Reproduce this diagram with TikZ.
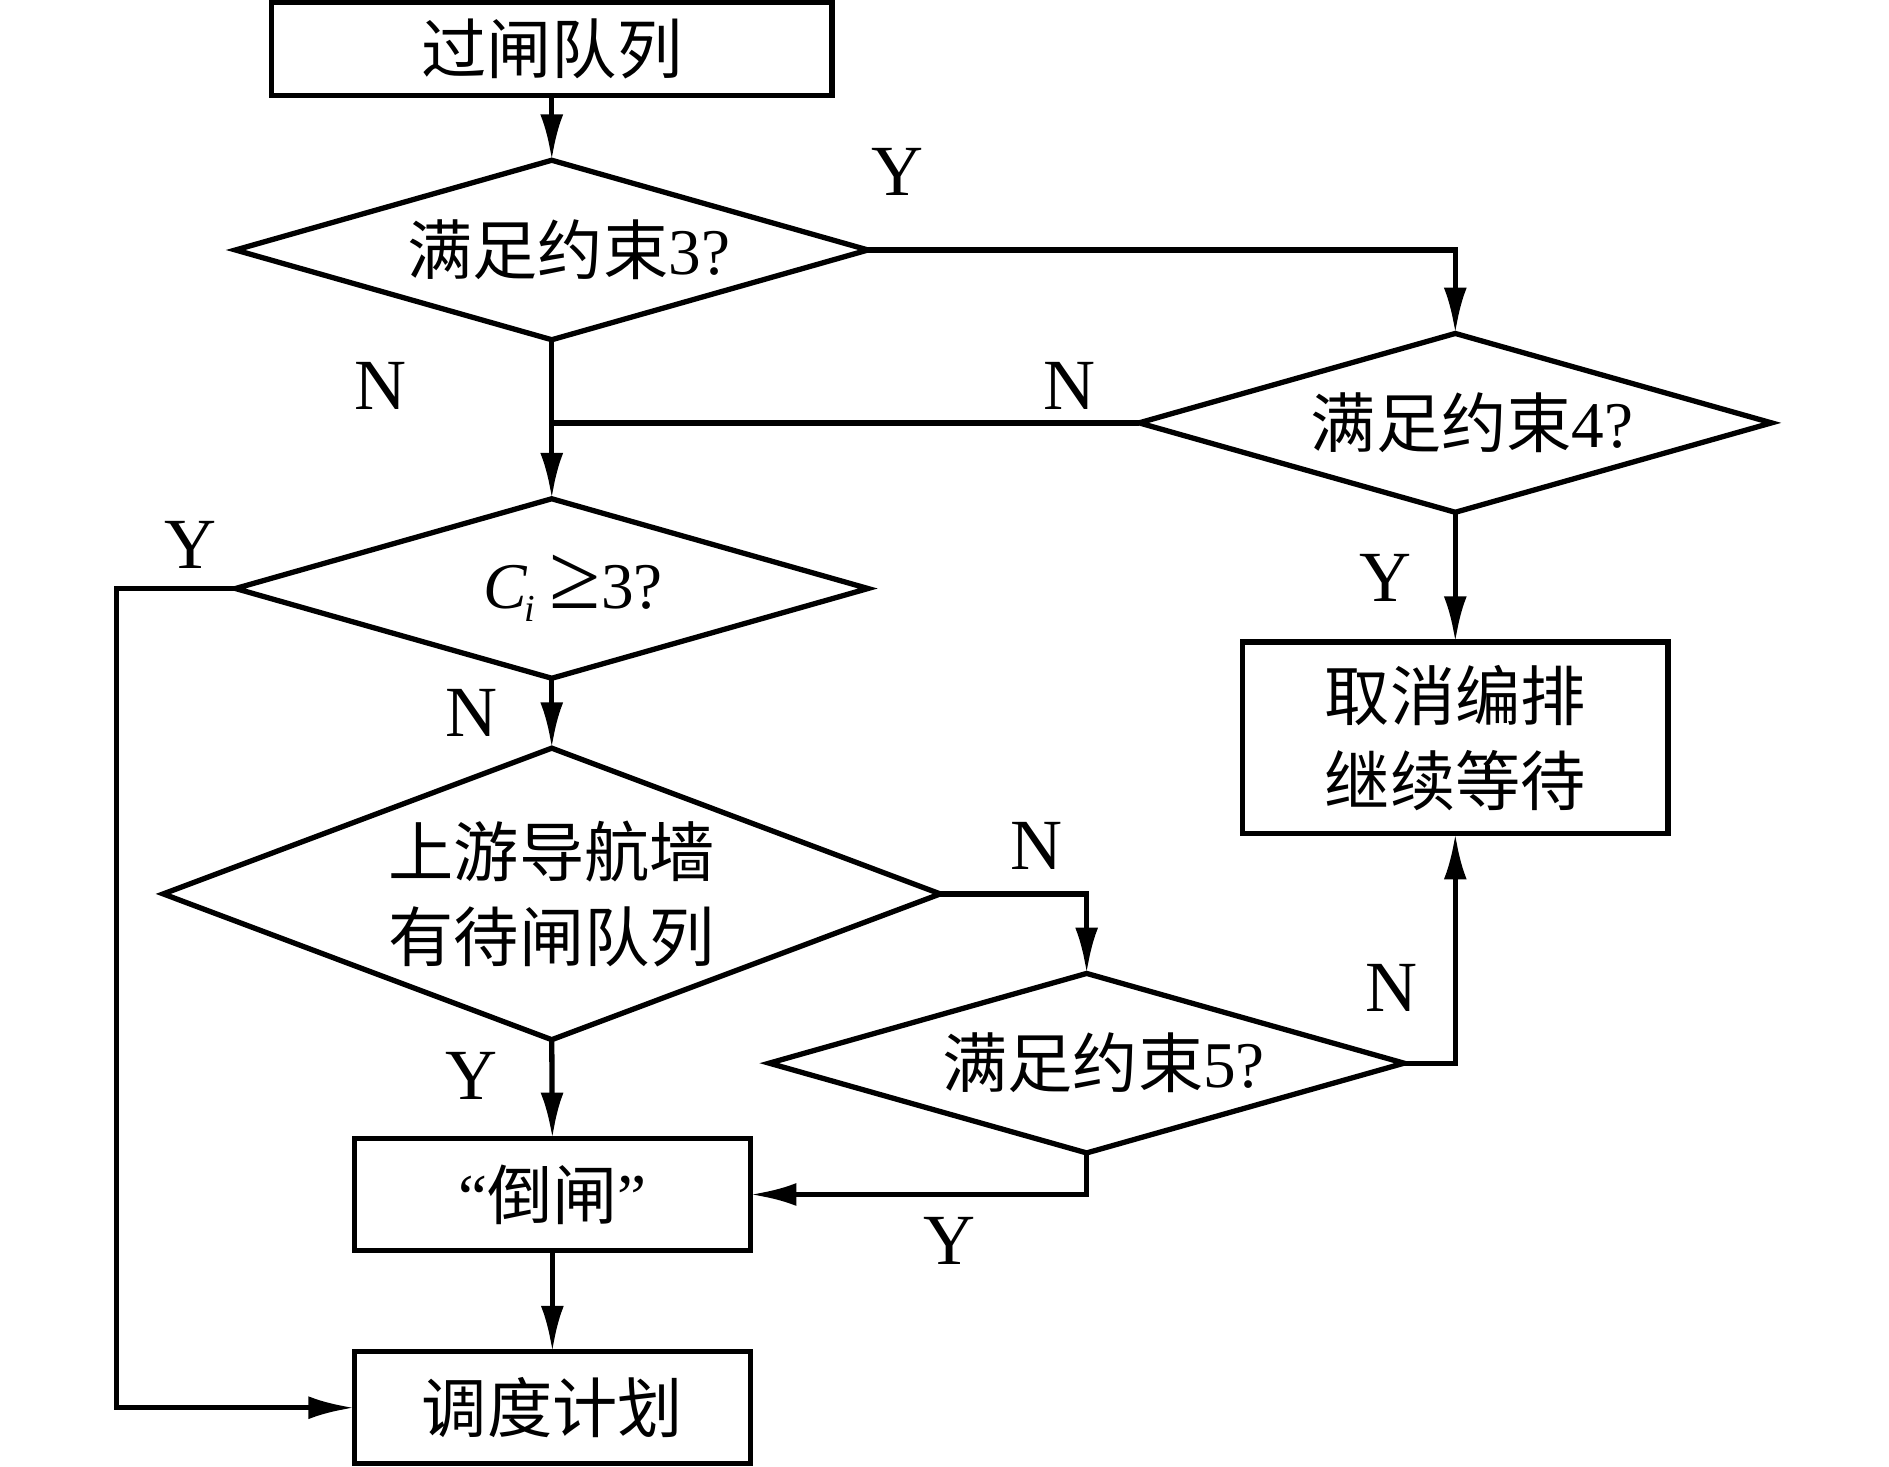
\documentclass[tikz,border=0pt]{standalone}
\usepackage{fontspec}
\setmainfont{Liberation Serif}
\newfontfamily\cjk{Noto Sans CJK SC}
\usetikzlibrary{shapes.geometric,arrows.meta}
\begin{document}
\begin{tikzpicture}[x=0.01cm,y=-0.01cm,
  every node/.style={inner sep=0pt,outer sep=0pt},
  txt/.style={font=\fontsize{15.4}{18}\selectfont,align=center},
  box/.style={txt,draw,line width=1.25pt,rectangle},
  dia/.style={txt,draw,line width=1.25pt,diamond,aspect=3},
  lab/.style={font=\fontsize{17}{20}\selectfont},
  con/.style={line width=1.25pt},
  arr/.style={con,-{Latex[length=3.8mm,width=1.9mm]}}]
\useasboundingbox (0,0) rectangle (1568,1217);
% nodes
\node[box,minimum width=465*0.01cm,minimum height=77*0.01cm] (q) at (458,40.5) {{\cjk 过闸队列}};
\node[dia,minimum width=525*0.01cm,minimum height=149*0.01cm] (d3) at (458,207.5) {\hspace{8pt}{\cjk 满足约束}3?};
\node[dia,minimum width=525*0.01cm,minimum height=148*0.01cm] (d4) at (1208,351) {\hspace{8pt}{\cjk 满足约束}4?};
\node[dia,minimum width=525*0.01cm,minimum height=149*0.01cm] (dc) at (458,488.5) {\hspace{10pt}{\itshape C\kern-0.5pt\raisebox{-0.45ex}{\fontsize{9}{9}\selectfont i}}\kern3.5pt{\fontsize{22}{22}\selectfont ≥}3?};
\node[dia,minimum width=645*0.01cm,minimum height=242*0.01cm] (dw) at (458,742) {{\cjk 上游导航墙}\\[2pt]{\cjk 有待闸队列}};
\node[dia,minimum width=527*0.01cm,minimum height=149*0.01cm] (d5) at (902,882.5) {\hspace{8pt}{\cjk 满足约束}5?};
\node[box,minimum width=353*0.01cm,minimum height=159*0.01cm] (cancel) at (1208,612.5) {{\cjk 取消编排}\\[2pt]{\cjk 继续等待}};
\node[box,minimum width=329*0.01cm,minimum height=93*0.01cm] (dz) at (458.5,991.5) {“{\cjk 倒闸}”};
\node[box,minimum width=329*0.01cm,minimum height=93*0.01cm] (plan) at (458.5,1168.5) {{\cjk 调度计划}};
% connectors
\draw[arr] (q.south) -- (d3.north);
\draw[arr] (d3.east) -| (d4.north);
\draw[arr] (d3.south) -- (dc.north);
\draw[con] (d4.west) -- (d4.west -| d3.south);
\draw[arr] (dc.west) -- ++(-99,0) |- (plan.west);
\draw[arr] (dc.south) -- (dw.north);
\draw[arr] (dw.east) -| (d5.north);
\draw[arr] (d5.east) -| (cancel.south);
\draw[arr] (d4.south) -- (cancel.north);
\draw[arr] (dw.south) -- (dz.north);
\draw[arr] (d5.south) |- (dz.east);
\draw[arr] (dz.south) -- (plan.north);
% labels
\node[lab] (l1) at (745,143) {Y};
\node[lab] (l2) at (316,320) {N};
\node[lab] (l3) at (888,320) {N};
\node[lab] (l4) at (158,452) {Y};
\node[lab] (l5) at (1150,480) {Y};
\node[lab] (l6) at (391,592) {N};
\node[lab] (l7) at (860,702) {N};
\node[lab] (l8) at (1155,820) {N};
\node[lab] (l9) at (391,893) {Y};
\node[lab] (l10) at (788,1030) {Y};
\end{tikzpicture}
\end{document}
